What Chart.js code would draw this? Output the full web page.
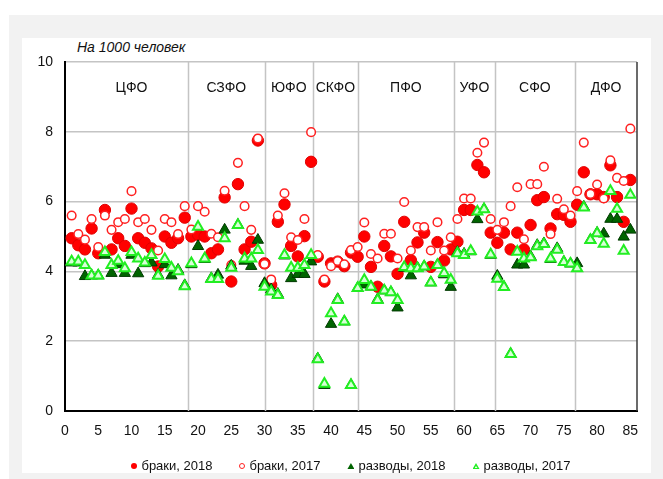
<!DOCTYPE html>
<html><head><meta charset="utf-8">
<script src="https://cdn.jsdelivr.net/npm/chart.js@4"></script>
<style>
html,body{margin:0;padding:0;background:#fff;}
#wrap{position:relative;width:663px;height:479px;overflow:hidden;font-family:"Liberation Sans",Arial,sans-serif;color:#111;}
#frame{position:absolute;left:9px;top:15px;width:654px;height:464px;background:#f2f2f2;}
#panel{position:absolute;left:22px;top:38px;width:629px;height:435px;background:#fff;}
#c{position:absolute;left:0;top:0;}
#unit{position:absolute;left:77px;top:39px;font-style:italic;font-size:14px;line-height:16px;}
#legend{position:absolute;left:65px;width:572px;top:458px;display:flex;justify-content:center;gap:27px;font-size:13px;line-height:16px;}
#legend .it{display:flex;align-items:center;gap:4px;}
.m{display:inline-block;}
.m1{width:6px;height:6px;border-radius:50%;background:#ff0000;}
.m2{width:4px;height:4px;border-radius:50%;border:1px solid #ff2020;background:#fff;}
.m3{width:7px;height:6px;background:#006400;clip-path:polygon(50% 0,100% 100%,0 100%);}
.m4{width:7px;height:6px;background:#22ee22;clip-path:polygon(50% 0,100% 100%,0 100%);position:relative;}
.m4::after{content:"";position:absolute;left:2px;top:3px;width:3px;height:2px;background:#e6ffe6;clip-path:polygon(50% 0,100% 100%,0 100%);}
</style></head>
<body>
<div id="wrap">
<div id="frame"></div>
<div id="panel"></div>
<div id="unit">На 1000 человек</div>
<canvas id="c" width="663" height="479"></canvas>
<div id="legend"></div>
</div>
<script>
// ---- data ----
const regionNo = [1,2,3,4,5,6,7,8,9,10,11,12,13,14,15,16,17,18,19,20,21,22,23,24,25,26,27,28,29,30,31,32,33,34,35,36,37,38,39,40,41,42,43,44,45,46,47,48,49,50,51,52,53,54,55,56,57,58,59,60,61,62,63,64,65,66,67,68,69,70,71,72,73,74,75,76,77,78,79,80,81,82,83,84,85];
const marriages2018 = [4.95,4.75,4.63,5.23,4.52,5.76,4.63,4.95,4.73,5.8,4.95,4.82,4.66,4.14,5.0,4.82,4.95,5.54,5.0,5.05,5.0,4.52,4.63,6.12,3.71,6.5,4.63,4.85,7.75,4.23,3.61,5.42,5.92,4.73,4.43,5.01,7.14,4.42,3.71,4.23,4.28,4.15,4.54,4.42,5.0,4.13,3.56,4.73,4.43,3.93,5.42,4.32,4.83,5.11,4.13,4.84,4.31,4.63,4.85,5.76,5.76,7.05,6.84,5.11,4.82,5.11,4.63,5.11,4.63,5.33,6.04,6.13,5.23,5.64,5.62,5.42,5.91,6.84,6.21,6.21,6.13,7.04,6.13,5.42,6.62];
const marriages2017 = [5.6,5.07,4.91,5.5,4.7,5.6,5.19,5.41,5.5,6.3,5.41,5.5,5.19,4.6,5.5,5.41,5.07,5.87,5.2,5.87,5.71,5.08,4.98,6.31,4.18,7.11,5.87,5.19,7.81,4.21,3.77,5.6,6.24,4.98,4.9,5.5,7.99,4.47,3.77,4.15,4.3,4.2,4.61,4.7,5.4,4.5,4.37,5.08,5.08,4.37,5.99,4.6,5.27,5.27,4.6,5.41,4.6,4.98,5.5,6.09,6.09,7.4,7.69,5.5,5.19,5.41,5.87,6.41,4.92,6.5,6.5,7.0,5.07,6.08,5.78,5.6,6.3,7.69,6.22,6.49,6.09,7.18,6.68,6.59,8.09];
const divorces2018 = [4.25,4.25,3.86,3.88,3.88,4.47,3.95,4.2,3.95,4.47,3.94,4.23,4.25,3.9,4.2,3.88,4.04,3.6,4.2,4.72,4.35,3.8,3.9,5.19,4.16,5.33,4.3,4.15,4.9,3.66,3.48,3.35,4.45,3.8,3.92,3.92,4.28,1.5,0.74,2.49,3.2,2.56,0.74,3.52,3.62,3.56,3.2,3.45,3.4,2.96,4.1,3.88,4.1,4.14,3.68,4.18,3.91,3.55,4.55,4.5,4.57,5.49,5.78,4.47,3.87,3.55,1.63,4.19,4.19,4.43,4.75,4.8,4.35,4.66,4.27,4.22,4.23,5.85,4.9,5.1,5.08,5.5,5.5,4.99,5.19];
const divorces2017 = [4.28,4.28,4.18,3.88,3.88,4.55,4.18,4.3,4.09,4.55,4.37,4.25,4.47,3.87,4.35,4.1,4.0,3.57,4.23,5.28,4.37,3.78,3.78,4.95,4.1,5.33,4.37,4.37,4.61,3.56,3.42,3.32,4.47,4.1,4.1,4.18,4.47,1.48,0.78,2.8,3.18,2.56,0.74,3.52,3.75,3.56,3.18,3.45,3.4,3.18,4.12,4.09,4.09,4.14,3.68,4.18,3.95,3.76,4.52,4.47,4.58,5.71,5.78,4.48,3.79,3.55,1.63,4.56,4.37,4.4,4.72,4.78,4.37,4.62,4.27,4.22,4.09,5.83,4.9,5.09,4.79,6.3,5.79,4.59,6.19];
const districts = ["ЦФО","СЗФО","ЮФО","СКФО","ПФО","УФО","СФО","ДФО"];
const districtBounds = [1.5,18.5,30,37.3,44,58.5,64.6,76.7,86];
const xTicks = [0,5,10,15,20,25,30,35,40,45,50,55,60,65,70,75,80,85];
const yTicks = [0,2,4,6,8,10];
const seriesNames = ["браки, 2018","браки, 2017","разводы, 2018","разводы, 2017"];

const pts = arr => regionNo.map((x,i)=>({x:x,y:arr[i]}));

const FONT = '"Liberation Sans", Arial, sans-serif';

const districtPlugin = {
  id:'districts',
  beforeDatasetsDraw(chart){
    const {ctx, chartArea:a, scales:{x,y}} = chart;
    ctx.save();
    ctx.strokeStyle = '#c4c4c4';
    ctx.lineWidth = 1.5;
    for (let k=1;k<districtBounds.length-1;k++){
      const px = Math.round(x.getPixelForValue(districtBounds[k]))+0.5;
      ctx.beginPath(); ctx.moveTo(px,a.top); ctx.lineTo(px,a.bottom); ctx.stroke();
    }
    ctx.strokeStyle = '#3a3a3a';
    ctx.lineWidth = 1.5;
    ctx.beginPath(); ctx.moveTo(a.right,a.top); ctx.lineTo(a.right,a.bottom); ctx.stroke();
    ctx.fillStyle = '#111';
    ctx.font = '14px '+FONT;
    ctx.textAlign = 'center'; ctx.textBaseline = 'middle';
    const ly = y.getPixelForValue(9.25);
    districts.forEach((d,k)=>{
      const cx = x.getPixelForValue((districtBounds[k]+districtBounds[k+1])/2);
      ctx.fillText(d, cx, ly);
    });
    ctx.restore();
  }
};

new Chart(document.getElementById('c'), {
  type:'scatter',
  data:{datasets:[
    {label:seriesNames[0], data:pts(marriages2018), pointStyle:'circle', pointRadius:5.7, pointHoverRadius:5.7, backgroundColor:'#ff0000', borderColor:'#e00000', borderWidth:1, order:3},
    {label:seriesNames[1], data:pts(marriages2017), pointStyle:'circle', pointRadius:4.3, pointHoverRadius:4.3, backgroundColor:'#ffffff', borderColor:'#ff2020', borderWidth:1.5, order:2},
    {label:seriesNames[2], data:pts(divorces2018), pointStyle:'triangle', pointRadius:6.5, pointHoverRadius:6.5, backgroundColor:'#006400', borderColor:'#003a00', borderWidth:1, order:1},
    {label:seriesNames[3], data:pts(divorces2017), pointStyle:'triangle', pointRadius:5.8, pointHoverRadius:5.8, backgroundColor:'#d8ffd8', borderColor:'#22ee22', borderWidth:2, order:0}
  ]},
  options:{
    responsive:false, animation:false, devicePixelRatio:1,
    layout:{padding:{left:0,right:26,top:62,bottom:0}},
    plugins:{legend:{display:false}, tooltip:{enabled:false}},
    scales:{
      x:{type:'linear', min:0, max:86,
        afterFit(s){ s.height = 68; },
        afterBuildTicks(s){ s.ticks = xTicks.map(v=>({value:v})); },
        grid:{display:false, drawTicks:false},
        border:{display:true, color:'#000', width:2},
        ticks:{padding:12, color:'#111', font:{size:14, family:FONT}, maxRotation:0, autoSkip:false}
      },
      y:{type:'linear', min:0, max:10,
        afterFit(s){ s.width = 65; },
        afterBuildTicks(s){ s.ticks = yTicks.map(v=>({value:v})); },
        grid:{color:'#c4c4c4', lineWidth:1.5, drawTicks:false},
        border:{display:true, color:'#000', width:2},
        ticks:{padding:12, color:'#111', font:{size:14, family:FONT}}
      }
    }
  },
  plugins:[districtPlugin]
});

// legend (text from series names)
const lg = document.getElementById('legend');
seriesNames.forEach((n,i)=>{
  const it = document.createElement('span'); it.className='it';
  const m = document.createElement('span'); m.className='m m'+(i+1);
  const t = document.createElement('span'); t.textContent = n;
  it.appendChild(m); it.appendChild(t); lg.appendChild(it);
});
</script>
</body></html>
